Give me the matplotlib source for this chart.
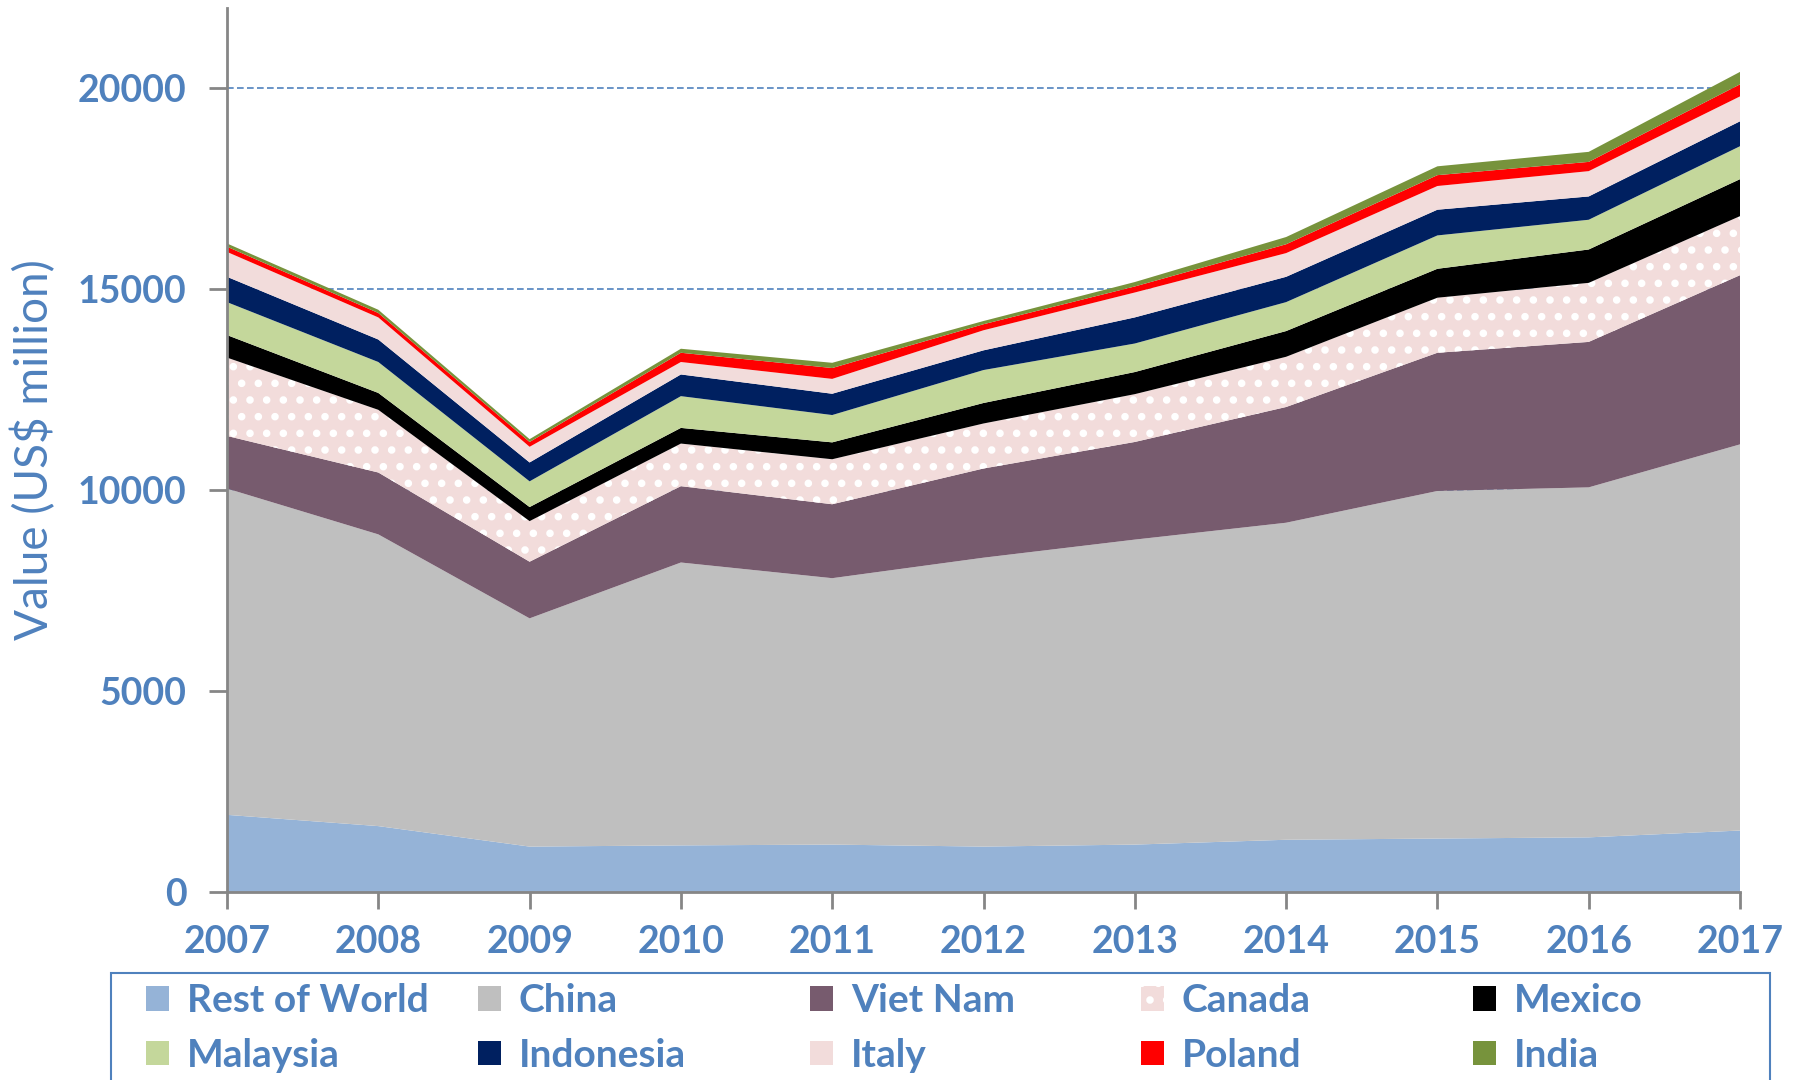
import matplotlib
matplotlib.use("Agg")
import matplotlib.pyplot as plt
from matplotlib.patches import Patch, Rectangle

# Valeurs (US$ million)
years = [2007, 2008, 2009, 2010, 2011, 2012, 2013, 2014, 2015, 2016, 2017]
rest_of_world = [1920, 1640, 1130, 1160, 1180, 1130, 1180, 1300, 1330, 1360, 1530]
china = [8120, 7260, 5680, 7040, 6630, 7190, 7590, 7890, 8650, 8710, 9610]
viet_nam = [1310, 1540, 1410, 1900, 1840, 2220, 2430, 2880, 3440, 3620, 4210]
canada = [1950, 1560, 1010, 1060, 1120, 1120, 1190, 1250, 1370, 1470, 1470]
mexico = [560, 420, 350, 390, 420, 510, 550, 640, 720, 830, 920]
malaysia = [820, 770, 640, 790, 680, 820, 710, 720, 830, 740, 820]
indonesia = [630, 560, 470, 540, 530, 490, 650, 630, 640, 580, 620]
italy = [620, 550, 390, 310, 370, 500, 620, 590, 590, 630, 620]
poland = [130, 110, 120, 230, 270, 150, 150, 220, 270, 230, 300]
india = [80, 80, 70, 100, 130, 80, 110, 180, 220, 250, 310]

labels = ["Rest of World", "China", "Viet Nam", "Canada", "Mexico",
          "Malaysia", "Indonesia", "Italy", "Poland", "India"]
colors = ["#95B3D7", "#BFBFBF", "#775B6E", "#F2DCDB", "#000000",
          "#C4D79B", "#002060", "#F2DCDB", "#FF0000", "#77933C"]

blue = "#4F81BD"
grey = "#868686"
plt.rcParams['font.family'] = ['Lato', 'DejaVu Sans']
plt.rcParams['hatch.linewidth'] = 3.0

W, H = 1793, 1080
fig = plt.figure(figsize=(W / 100, H / 100), dpi=100)
ax = fig.add_axes([227 / W, 1 - 892 / H, (1740 - 227) / W, (892 - 8) / H])

series = [rest_of_world, china, viet_nam, canada, mexico,
          malaysia, indonesia, italy, poland, india]
polys = ax.stackplot(years, *series, colors=colors, linewidth=0, zorder=2)
# Canada : fond rose à pois blancs
polys[3].set_hatch('.')
polys[3].set_edgecolor('white')
polys[3].set_linewidth(0)

ax.set_xlim(2007, 2017)
ax.set_ylim(0, 22000)
ax.set_yticks([0, 5000, 10000, 15000, 20000])
ax.set_xticks(years)
ax.yaxis.grid(True, color=blue, linestyle=(0, (4, 2)), linewidth=1.2, zorder=0)
ax.set_axisbelow(True)

for s in ["top", "right"]:
    ax.spines[s].set_visible(False)
for s in ["left", "bottom"]:
    ax.spines[s].set_color(grey)
    ax.spines[s].set_linewidth(2)
    ax.spines[s].set_zorder(3)

ax.tick_params(axis='y', length=13, width=2, color=grey, pad=16,
               labelsize=27, labelcolor=blue)
ax.tick_params(axis='x', length=12, width=2, color=grey, pad=12,
               labelsize=27, labelcolor=blue)
for t in ax.get_xticklabels() + ax.get_yticklabels():
    t.set_fontweight('bold')

ax.set_ylabel("Value (US$ million)", fontsize=33, color=blue, labelpad=16)

# Légende : 5 colonnes régulièrement espacées, cadre coupé en bas
handles = [Patch(facecolor=c, edgecolor='none') for c in colors]
handles[3] = Patch(facecolor=colors[3], edgecolor='white', hatch='.', linewidth=0)
col_x = [146, 478, 810, 1141, 1473]
for j, x in enumerate(col_x):
    leg = fig.legend([handles[j], handles[j + 5]], [labels[j], labels[j + 5]],
                     loc='center left', bbox_to_anchor=(x / W, 1 - 1028 / H),
                     frameon=False, fontsize=28, handlelength=0.6,
                     handleheight=0.6, handletextpad=0.45, labelspacing=0.5,
                     borderpad=0, borderaxespad=0)
    for t in leg.get_texts():
        t.set_color(blue)
        t.set_fontweight('bold')

fig.patches.append(Rectangle((111 / W, -0.05), (1770 - 111) / W, 0.05 + 1 - 973 / H,
                             transform=fig.transFigure, fill=False,
                             edgecolor=blue, linewidth=1.5))

fig.savefig("out.png", dpi=100)
